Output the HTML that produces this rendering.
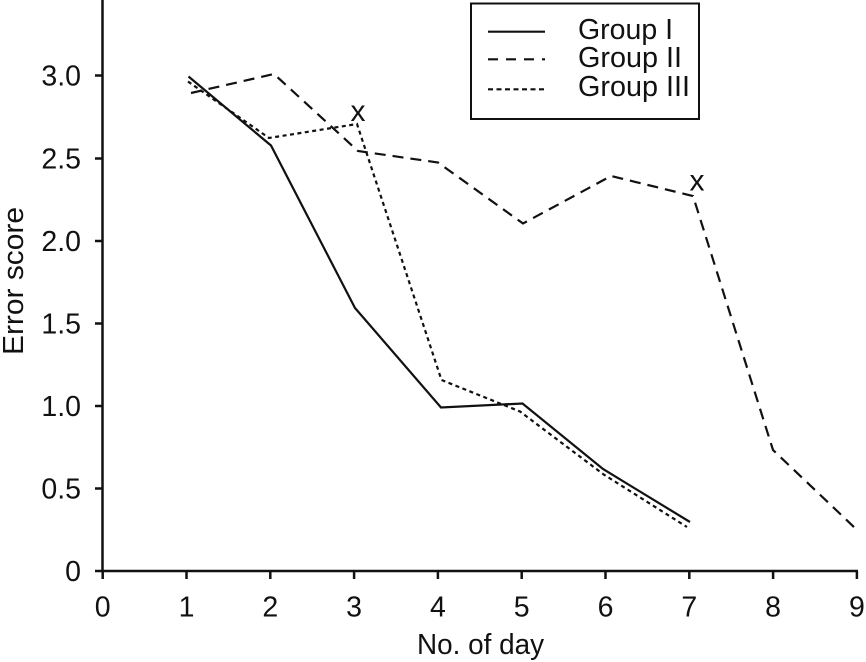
<!DOCTYPE html>
<html><head><meta charset="utf-8"><style>
html,body{margin:0;padding:0;background:#fff;}
svg{display:block;}
text{font-family:"Liberation Sans",Arial,sans-serif;fill:#111;}
</style></head><body>
<svg width="866" height="662" viewBox="0 0 866 662" xmlns="http://www.w3.org/2000/svg">
<rect width="866" height="662" fill="#fff"/>
<!-- axes -->
<g stroke="#111" stroke-width="2.5" fill="none">
<line x1="102.5" y1="0" x2="102.5" y2="572"/>
<line x1="95" y1="571" x2="858" y2="571"/>
<!-- y ticks -->
<line x1="95" y1="75.5" x2="102" y2="75.5"/>
<line x1="95" y1="158.5" x2="102" y2="158.5"/>
<line x1="95" y1="241" x2="102" y2="241"/>
<line x1="95" y1="323.5" x2="102" y2="323.5"/>
<line x1="95" y1="406" x2="102" y2="406"/>
<line x1="95" y1="488.5" x2="102" y2="488.5"/>
<!-- x ticks -->
<line x1="102.7" y1="571" x2="102.7" y2="579"/>
<line x1="186.5" y1="571" x2="186.5" y2="579"/>
<line x1="270.3" y1="571" x2="270.3" y2="579"/>
<line x1="354.1" y1="571" x2="354.1" y2="579"/>
<line x1="437.9" y1="571" x2="437.9" y2="579"/>
<line x1="521.7" y1="571" x2="521.7" y2="579"/>
<line x1="605.5" y1="571" x2="605.5" y2="579"/>
<line x1="689.3" y1="571" x2="689.3" y2="579"/>
<line x1="773.1" y1="571" x2="773.1" y2="579"/>
<line x1="856.9" y1="571" x2="856.9" y2="579"/>
</g>
<!-- y tick labels -->
<g font-size="28.5" text-anchor="end">
<text x="81" y="85.5">3.0</text>
<text x="81" y="168.5">2.5</text>
<text x="81" y="251">2.0</text>
<text x="81" y="333.5">1.5</text>
<text x="81" y="416">1.0</text>
<text x="81" y="498.5">0.5</text>
<text x="81" y="581">0</text>
</g>
<!-- x tick labels -->
<g font-size="28.5" text-anchor="middle">
<text x="102.7" y="616.5">0</text>
<text x="186.5" y="616.5">1</text>
<text x="270.3" y="616.5">2</text>
<text x="354.1" y="616.5">3</text>
<text x="437.9" y="616.5">4</text>
<text x="521.7" y="616.5">5</text>
<text x="605.5" y="616.5">6</text>
<text x="689.3" y="616.5">7</text>
<text x="773.1" y="616.5">8</text>
<text x="856.9" y="616.5">9</text>
</g>
<!-- axis titles -->
<text x="480.5" y="654" font-size="28.5" text-anchor="middle" textLength="127" lengthAdjust="spacingAndGlyphs">No. of day</text>
<text transform="translate(23,281) rotate(-90)" x="0" y="0" font-size="29" text-anchor="middle" textLength="148" lengthAdjust="spacingAndGlyphs">Error score</text>
<!-- series -->
<g fill="none" stroke="#111" stroke-width="2.2" stroke-linejoin="miter">
<polyline points="188.5,76.5 271,145.5 355,308 441,407.5 522.5,403.5 603,469 690,522"/>
<polyline stroke-dasharray="11,7" points="191,93 274,74 358,151 438,162.5 523,223.5 611,176 693,196 773,450 855,528"/>
<polyline stroke-dasharray="4,3.5" points="188,81.5 269,138 357,124 441.5,380 520,411.5 603,474 687,527"/>
</g>
<!-- x markers -->
<g font-size="30" text-anchor="middle">
<text x="358" y="121">x</text>
<text x="697" y="190.5">x</text>
</g>
<!-- legend -->
<rect x="471" y="3.5" width="228" height="115.5" fill="#fff" stroke="#111" stroke-width="2"/>
<g stroke="#111" stroke-width="2.2" fill="none">
<line x1="488" y1="31.7" x2="545" y2="31.7"/>
<line x1="488" y1="59.3" x2="545" y2="59.3" stroke-dasharray="10,8"/>
<line x1="488" y1="89.3" x2="545" y2="89.3" stroke-dasharray="5,3.5"/>
</g>
<g font-size="28.5">
<text x="578" y="39" textLength="95" lengthAdjust="spacingAndGlyphs">Group I</text>
<text x="578" y="67" textLength="104" lengthAdjust="spacingAndGlyphs">Group II</text>
<text x="578" y="96" textLength="112" lengthAdjust="spacingAndGlyphs">Group III</text>
</g>
</svg>
</body></html>
